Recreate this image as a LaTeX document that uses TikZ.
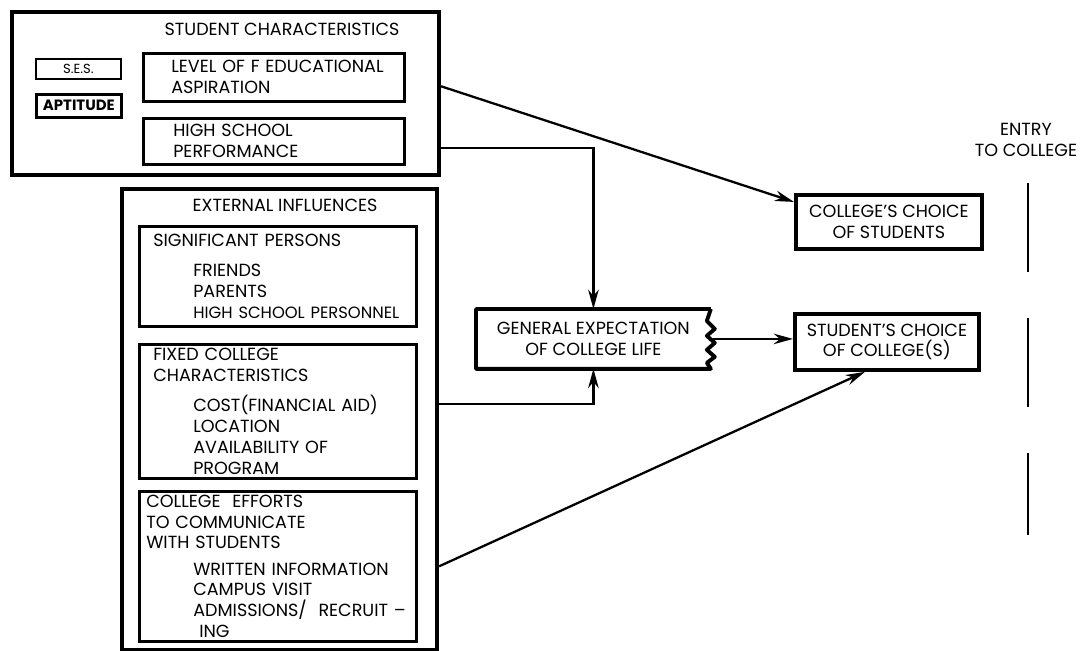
\documentclass[tikz,border=0pt]{standalone}
\usepackage{fontspec}
\setmainfont{Poppins}
\usetikzlibrary{arrows.meta,positioning}

\begin{document}
\begin{tikzpicture}[x=0.02cm,y=-0.02cm,
  every node/.style={font=\fontsize{10}{11.9}\selectfont},
  bigbox/.style={draw,line width=2.4pt,anchor=north west,inner sep=0pt},
  box/.style={draw,line width=1.5pt,anchor=north west,align=left,inner xsep=0.28cm,inner ysep=0pt},
  choicebox/.style={draw,line width=2.2pt,anchor=north west,align=center,inner sep=0pt},
  arr/.style={line width=1.3pt,-{Stealth[length=11pt,width=6pt]}}]
\useasboundingbox (0,0) rectangle (1087,651);

% student characteristics
\node[bigbox,minimum width=8.54cm,minimum height=3.26cm] (stuchar) at (10,10) {};
\node (stutitle) at (282,29) {STUDENT CHARACTERISTICS};
\node[box,line width=1pt,minimum width=1.7cm,minimum height=0.4cm,inner sep=0pt,align=center,
  font=\fontsize{7.5}{8}\selectfont] (ses) at (35,58) {S.E.S.};
\node[box,minimum width=1.7cm,minimum height=0.46cm,inner sep=0pt,align=center,
  font=\fontsize{8.5}{9}\selectfont\bfseries] (apt) at (35,93) {APTITUDE};
\node[box,minimum width=5.22cm,minimum height=0.96cm,inner xsep=0.1cm,text width=5.02cm] (level) at (142,52)
  {\hspace*{0.46cm}LEVEL OF F EDUCATIONAL\\\hspace*{0.46cm}ASPIRATION};
\node[box,minimum width=5.22cm,minimum height=0.92cm,inner xsep=0.1cm,text width=5.02cm] (hsperf) at (142,117)
  {\hspace*{0.5cm}HIGH SCHOOL\\\hspace*{0.5cm}PERFORMANCE};

% external influences
\node[bigbox,minimum width=6.3cm,minimum height=9.22cm] (extinf) at (120,187) {};
\node (exttitle) at (285,205) {EXTERNAL INFLUENCES};
\node[box,minimum width=5.54cm,minimum height=2cm,inner xsep=0.1cm,text width=5.34cm] (sigpers) at (138,225)
  {\hspace*{0.18cm}SIGNIFICANT PERSONS\\[5pt]
   \hspace*{0.98cm}FRIENDS\\
   \hspace*{0.98cm}PARENTS\\
   \hspace*{0.98cm}{\fontsize{9.3}{11.9}\selectfont HIGH SCHOOL PERSONNEL}};
\node[box,minimum width=5.54cm,minimum height=2.68cm,text width=4.98cm] (fixed) at (138,343)
  {FIXED COLLEGE\\
   CHARACTERISTICS\\[5pt]
   \hspace*{0.8cm}COST(FINANCIAL AID)\\
   \hspace*{0.8cm}LOCATION\\
   \hspace*{0.8cm}AVAILABILITY OF\\
   \hspace*{0.8cm}PROGRAM};
\node[box,minimum width=5.54cm,minimum height=3cm,inner xsep=0.14cm,text width=5.26cm] (efforts) at (138,490)
  {COLLEGE\ \ EFFORTS\\
   TO COMMUNICATE\\
   WITH STUDENTS\\[3pt]
   \hspace*{0.94cm}WRITTEN INFORMATION\\
   \hspace*{0.94cm}CAMPUS VISIT\\
   \hspace*{0.94cm}ADMISSIONS/\ \ RECRUIT --\\
   \hspace*{1.06cm}ING};

% general expectation, jagged on the right
\node[choicebox,draw=none,minimum width=4.62cm,minimum height=1.12cm] (genexp) at (476,309)
  {GENERAL EXPECTATION\\OF COLLEGE LIFE};
\draw[line width=2.2pt,line join=round] (genexp.north east) -- (genexp.north west) -- (genexp.south west)
  -- (genexp.south east) -- ++(-4,-6) -- ++(8,-6) -- ++(-8,-7) -- ++(8,-7) -- ++(-8,-7) -- ++(8,-7)
  -- ++(-8,-8) -- (genexp.north east);

% choices
\node[choicebox,minimum width=3.72cm,minimum height=1.08cm] (colchoice) at (794,193)
  {COLLEGE'S CHOICE\\OF STUDENTS};
\node[choicebox,minimum width=3.68cm,minimum height=1.12cm] (stuchoice) at (793,312)
  {STUDENT'S CHOICE\\OF COLLEGE(S)};

% entry to college
\coordinate (entrytop) at (1028,183);
\coordinate (entrybot) at (1028,535);
\node[align=center] (entry) at (1026,140) {ENTRY\\TO COLLEGE};
\draw[line width=1.5pt,dash pattern=on 1.78cm off 0.92cm] (entrytop) -- (entrybot);

% arrows
\draw[arr] ([yshift=-0.18cm]level.east -| stuchar.east) -- ([yshift=0.4cm]colchoice.west);
\draw[arr] ([yshift=-0.14cm]hsperf.east -| stuchar.east) -| (genexp.north);
\draw[arr] ([yshift=0.14cm]fixed.east -| extinf.east) -| (genexp.south);
\draw[arr] (genexp.east) -- (genexp.east -| stuchoice.west);
\draw[arr] (efforts.east -| extinf.east) -- ([xshift=-0.44cm]stuchoice.south);
\end{tikzpicture}
\end{document}
